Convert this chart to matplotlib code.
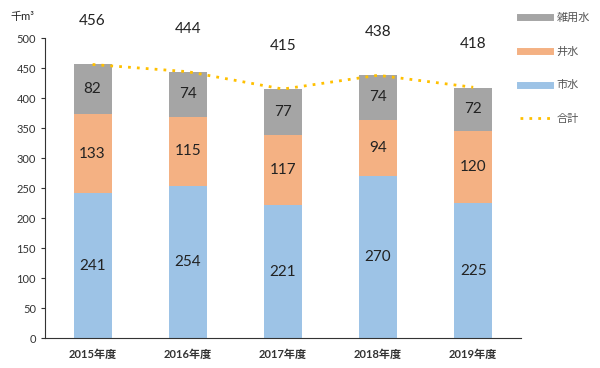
import matplotlib
matplotlib.use('Agg')
from matplotlib import pyplot as plt
from matplotlib.lines import Line2D
import numpy as np

plt.rcParams['font.family'] = ['Lato', 'Noto Sans CJK JP', 'DejaVu Sans']

# data
years = ['2015年度', '2016年度', '2017年度', '2018年度', '2019年度']
city = [241, 254, 221, 270, 225]      # 市水
well = [133, 115, 117, 94, 120]       # 井水
misc = [82, 74, 77, 74, 72]           # 雑用水
total = [456, 444, 415, 438, 418]     # 合計

c_city = '#9DC3E6'
c_well = '#F4B183'
c_misc = '#A5A5A5'
c_total = '#FFC000'

fig = plt.figure(figsize=(6, 3.68), dpi=100)
ax = fig.add_axes([0.075, 0.0815, 0.793, 0.815])

x = np.arange(len(years))
w = 0.4
city = np.array(city)
well = np.array(well)
misc = np.array(misc)

ax.bar(x, city, w, color=c_city, zorder=2)
ax.bar(x, well, w, bottom=city, color=c_well, zorder=2)
ax.bar(x, misc, w, bottom=city + well, color=c_misc, zorder=2)
ax.plot(x, total, linestyle=(0, (1, 2.2)), color=c_total, linewidth=2, zorder=3)

for i in range(len(years)):
    ax.text(x[i], city[i] / 2, str(city[i]), ha='center', va='center', fontsize=11, color='#222222')
    ax.text(x[i], city[i] + well[i] / 2, str(well[i]), ha='center', va='center', fontsize=11, color='#222222')
    ax.text(x[i], city[i] + well[i] + misc[i] / 2, str(misc[i]), ha='center', va='center', fontsize=11, color='#222222')
    ax.annotate(str(total[i]), (x[i], total[i]), xytext=(0, 31), textcoords='offset points',
                ha='center', va='center', fontsize=11, color='#222222')

ax.set_xlim(-0.5, 4.5)
ax.set_ylim(0, 500)
ax.set_yticks(range(0, 501, 50))
ax.set_xticks(x)
ax.set_xticklabels(years, fontsize=8, fontweight='bold', color='#333333')
ax.tick_params(axis='y', labelsize=8, colors='#333333', length=3, direction='out')
ax.tick_params(axis='x', length=0, pad=8)
ax.spines['top'].set_visible(False)
ax.spines['right'].set_visible(False)
ax.spines['left'].set_color('#333333')
ax.spines['bottom'].set_color('#333333')

fig.text(0.018, 0.955, '千m³', fontsize=8, color='#222222', va='center')

handles = [
    Line2D([0], [0], color=c_misc, linewidth=5),
    Line2D([0], [0], color=c_well, linewidth=5),
    Line2D([0], [0], color=c_city, linewidth=5),
    Line2D([0], [0], color=c_total, linewidth=2, linestyle=(0, (1, 2.2))),
]
labels = ['雑用水', '井水', '市水', '合計']
fig.legend(handles, labels, loc='upper left', bbox_to_anchor=(0.85, 0.995), frameon=False,
           fontsize=8, labelspacing=2.05, handlelength=2.7, handletextpad=0.6,
           labelcolor='#555555')

fig.savefig('out.png', dpi=100)
